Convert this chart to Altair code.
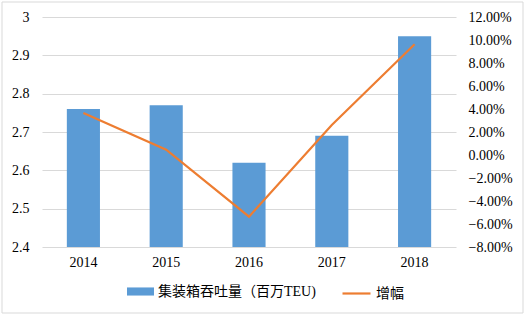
import altair as alt
import pandas as pd

years = ["2014", "2015", "2016", "2017", "2018"]
throughput = [2.76, 2.77, 2.62, 2.69, 2.95]
growth = [0.0365, 0.0046, -0.0536, 0.0261, 0.0963]
left_ticks = [2.4, 2.5, 2.6, 2.7, 2.8, 2.9, 3.0]
right_ticks = [-0.08, -0.06, -0.04, -0.02, 0.0, 0.02, 0.04, 0.06, 0.08, 0.10, 0.12]
bar_label = "集装箱吞吐量（百万TEU)"
line_label = "增幅"

df = pd.DataFrame({"year": years, "throughput": throughput, "growth": growth,
                   "s1": [bar_label] * 5, "s2": [line_label] * 5})

serif = "'Liberation Serif', 'Times New Roman', serif"
mixed = "'Liberation Serif', 'Noto Sans CJK SC', serif"
txt = "#000000"

xscale = alt.Scale(paddingInner=0.6, paddingOuter=0.3)
xaxis = alt.Axis(labelAngle=0, domain=False, ticks=False, labelPadding=8,
                 labelFont=serif, labelFontSize=14, labelColor=txt, grid=False)

base = alt.Chart(df)

bars = base.mark_bar(color="#5b9bd5").encode(
    x=alt.X("year:N", sort=years, title=None, scale=xscale, axis=xaxis),
    y=alt.Y("throughput:Q",
            scale=alt.Scale(domain=[2.4, 3.0], zero=False, nice=False),
            axis=alt.Axis(title=None, values=left_ticks, format=".1~f", domain=False,
                          ticks=False, grid=True, gridColor="#d9d9d9", gridWidth=1,
                          labelPadding=13, labelFont=serif, labelFontSize=14,
                          labelColor=txt)),
    y2=alt.datum(2.4),
    fill=alt.Fill("s1:N", scale=alt.Scale(range=["#5b9bd5"]),
                  legend=alt.Legend(title=None, orient="none", legendX=85, legendY=261,
                                    symbolType="M-1,-0.3H1V0.3H-1Z", symbolSize=729,
                                    symbolStrokeWidth=0, labelFont=mixed,
                                    labelFontSize=14, labelColor=txt, labelOffset=4,
                                    padding=0)),
)

line = base.mark_line(strokeWidth=2.2).encode(
    x=alt.X("year:N", sort=years, title=None, scale=xscale, axis=xaxis, bandPosition=0.5),
    y=alt.Y("growth:Q",
            scale=alt.Scale(domain=[-0.08, 0.12], zero=False, nice=False),
            axis=alt.Axis(title=None, orient="right", values=right_ticks, format=".2%",
                          domain=False, ticks=False, grid=False, labelPadding=12,
                          labelFont=serif, labelFontSize=14, labelColor=txt)),
    stroke=alt.Stroke("s2:N", scale=alt.Scale(range=["#ed7d31"]),
                      legend=alt.Legend(title=None, orient="none", legendX=299, legendY=261,
                                        symbolType="stroke", symbolSize=784,
                                        symbolStrokeWidth=2.2, labelFont=mixed,
                                        labelFontSize=14, labelColor=txt, labelOffset=4,
                                        padding=0)),
)

border = alt.Chart(pd.DataFrame({"a": [0]})).mark_rect(
    fillOpacity=0, stroke="#d9d9d9", strokeWidth=1
).encode(x=alt.value(-40), x2=alt.value(481), y=alt.value(-15), y2=alt.value(296))

chart = alt.layer(border, bars, line).resolve_scale(y="independent").properties(
    width=414, height=230, autosize="none",
    padding={"left": 42, "top": 17, "right": 71, "bottom": 72},
    background="white",
).configure_view(stroke=None)

chart.save("out.html", embed_options={"renderer": "svg", "actions": False})
